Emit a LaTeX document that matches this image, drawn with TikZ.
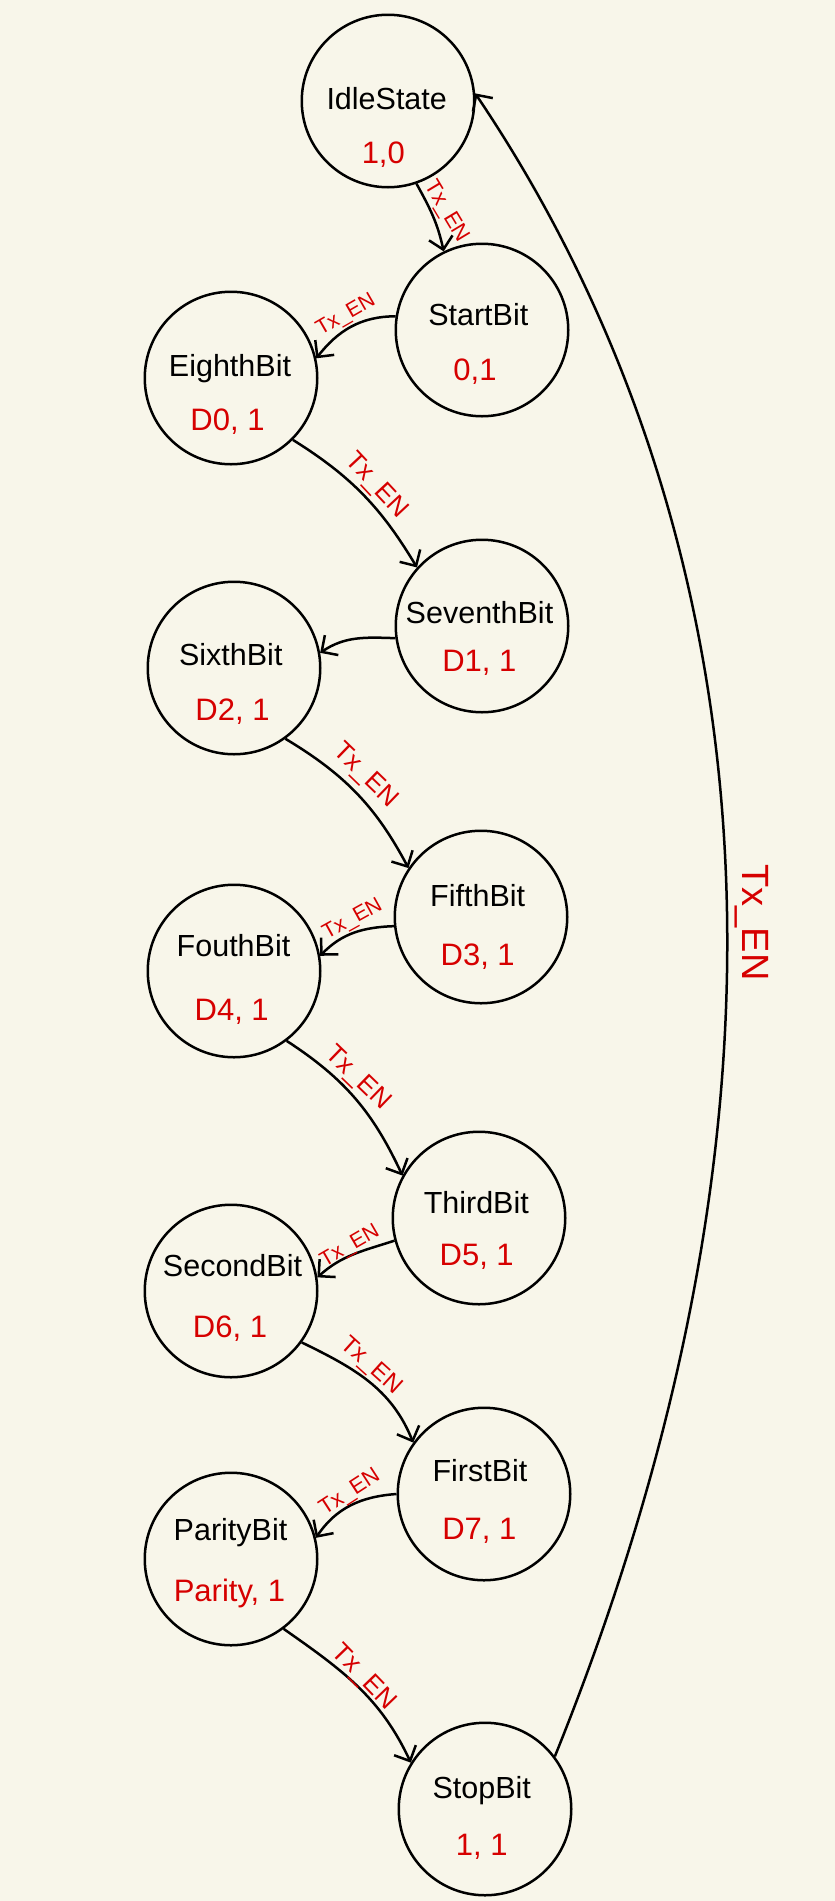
\documentclass[tikz,border=0pt]{standalone}
\usepackage{fontspec}
\setmainfont{Liberation Sans}
\usetikzlibrary{arrows.meta}
\definecolor{bg}{RGB}{248,246,234}
\definecolor{lred}{RGB}{214,0,0}
\begin{document}
\begin{tikzpicture}[x=1pt,y=1pt,
 state/.style={circle,draw=black,line width=2.5pt,minimum size=172.5pt,inner sep=0pt},
 nm/.style={anchor=base,inner sep=0pt,font=\fontsize{30.5}{36}\selectfont},
 val/.style={anchor=base,inner sep=0pt,text=lred,font=\fontsize{31}{36}\selectfont},
 arr/.style={line width=2.5pt,-{Straight Barb[length=12pt,width=24pt]}},
 lbl/.style={inner sep=0pt,text depth=0pt,text=lred,font=\fontsize{26}{30}\selectfont},
 lbls/.style={lbl,font=\fontsize{21}{25}\selectfont},
]
\fill[bg] (0,0) rectangle (835,-1901);
\useasboundingbox (0,0) rectangle (835,-1901);

\node[state] (idle) at (388,-101) {};
\node[state] (start) at (482,-330) {};
\node[state] (eighth) at (231,-378) {};
\node[state] (seventh) at (482,-626) {};
\node[state] (sixth) at (234,-668) {};
\node[state] (fifth) at (481,-917) {};
\node[state] (fouth) at (234,-971) {};
\node[state] (third) at (479,-1218) {};
\node[state] (second) at (231,-1291) {};
\node[state] (first) at (484,-1494) {};
\node[state] (parity) at (231,-1559) {};
\node[state] (stop) at (485,-1809) {};

\node[nm] (idleN) at (386.7,-109.3) {IdleState};
\node[val] (idleV) at (383.3,-163.3) {1,0};
\node[nm] (startN) at (478.3,-325) {StartBit};
\node[val] (startV) at (475,-380) {0,1};
\node[nm] (eighthN) at (230,-376.7) {EighthBit};
\node[val] (eighthV) at (227.5,-430) {D0, 1};
\node[nm] (seventhN) at (479.5,-623.3) {SeventhBit};
\node[val] (seventhV) at (479.3,-671.7) {D1, 1};
\node[nm] (sixthN) at (230.8,-665) {SixthBit};
\node[val] (sixthV) at (232.5,-720.7) {D2, 1};
\node[nm] (fifthN) at (477.7,-906.7) {FifthBit};
\node[val] (fifthV) at (477.7,-965) {D3, 1};
\node[nm] (fouthN) at (233.5,-956.7) {FouthBit};
\node[val] (fouthV) at (231.7,-1020) {D4, 1};
\node[nm] (thirdN) at (476.3,-1213.3) {ThirdBit};
\node[val] (thirdV) at (476.7,-1265.7) {D5, 1};
\node[nm] (secondN) at (232.5,-1276.7) {SecondBit};
\node[val] (secondV) at (230,-1337.3) {D6, 1};
\node[nm] (firstN) at (480,-1481.7) {FirstBit};
\node[val] (firstV) at (479.3,-1539.3) {D7, 1};
\node[nm] (parityN) at (230.5,-1540) {ParityBit};
\node[val] (parityV) at (229.5,-1601) {Parity, 1};
\node[nm] (stopN) at (481.7,-1798.3) {StopBit};
\node[val] (stopV) at (481.7,-1855) {1, 1};

\draw[arr] (idle.-71) to[out=-61,in=102] (start.116)
  node[lbls,font=\fontsize{22}{26}\selectfont,rotate=-59] (l1) at (448,-210.5) {Tx\_EN};
\draw[arr] (start.171) to[out=180,in=52] (eighth.13)
  node[lbls,rotate=30] (l2) at (345,-313.5) {Tx\_EN};
\draw[arr] (eighth.-45) to[out=-32,in=121] (seventh.138)
  node[lbl,rotate=-47] (l3) at (378,-484) {Tx\_EN};
\draw[arr] (seventh.188) to[out=178,in=34] (sixth.10);
\draw[arr] (sixth.-54) to[out=-31,in=118] (fifth.146)
  node[lbl,rotate=-44] (l5) at (366.8,-774) {Tx\_EN};
\draw[arr] (fifth.186) to[out=182,in=46] (fouth.10)
  node[lbls,rotate=29] (l6) at (351.7,-918) {Tx\_EN};
\draw[arr] (fouth.-53) to[out=-33,in=115] (third.151)
  node[lbl,rotate=-44] (l7) at (359.3,-1076.5) {Tx\_EN};
\draw[arr] (third.195) to[out=198,in=42] (second.9)
  node[lbls,rotate=30] (l8) at (349,-1245) {Tx\_EN};
\draw[arr] (second.-36) to[out=-26,in=112] (first.144)
  node[lbl,font=\fontsize{24}{28}\selectfont,rotate=-42] (l9) at (372.5,-1364.5) {Tx\_EN};
\draw[arr] (first.180) to[out=184,in=56] (parity.14)
  node[lbls,font=\fontsize{22}{26}\selectfont,rotate=33] (l10) at (349,-1490.7) {Tx\_EN};
\draw[arr] (parity.-53) to[out=-35,in=115] (stop.148)
  node[lbl,rotate=-46] (l11) at (365,-1675.7) {Tx\_EN};
\draw[arr] (stop.37) .. controls +(68:820pt) and +(-56:420pt) .. (idle.5)
  node[lbl,font=\fontsize{38}{44}\selectfont,rotate=-90] (l12) at (756,-922.5) {Tx\_EN};
\end{tikzpicture}
\end{document}
